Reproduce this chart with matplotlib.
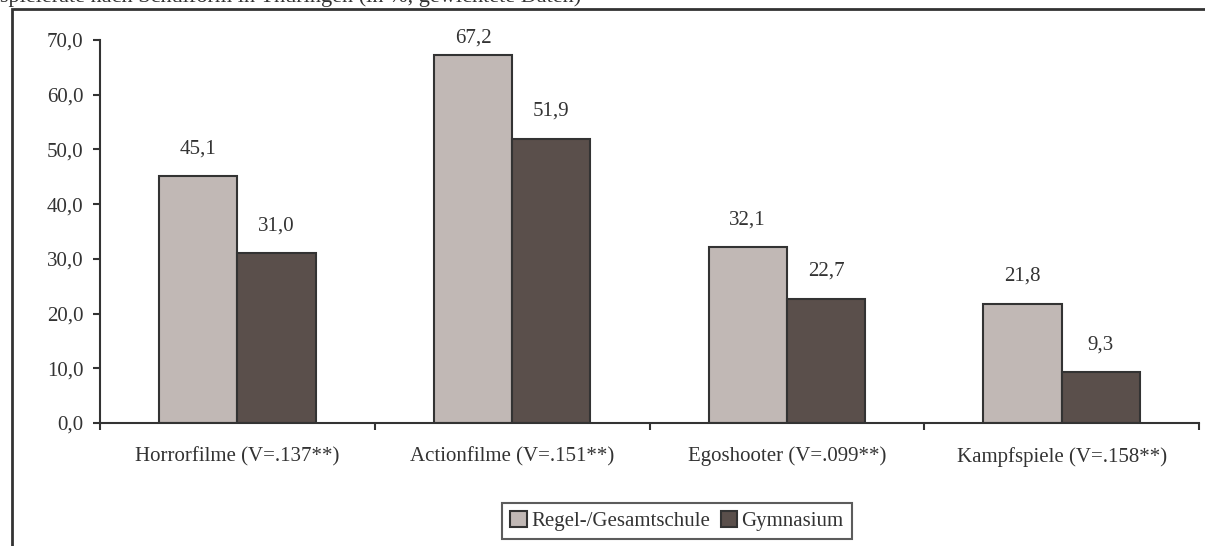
import matplotlib.pyplot as plt
import numpy as np
from matplotlib.patches import Rectangle

categories = ["Horrorfilme (V=.137**)", "Actionfilme (V=.151**)",
              "Egoshooter (V=.099**)", "Kampfspiele (V=.158**)"]
regel = [45.1, 67.2, 32.1, 21.8]
gymnasium = [31.0, 51.9, 22.7, 9.3]
series_names = ["Regel-/Gesamtschule", "Gymnasium"]
title = "spielerate nach Schulform in Thüringen (in %, gewichtete Daten)"

plt.rcParams['font.family'] = ['Liberation Serif', 'DejaVu Serif']
plt.rcParams['font.size'] = 15

edge = '#333333'
light = '#c1b8b5'
dark = '#5a4f4b'

fig = plt.figure(figsize=(12.05, 5.46), dpi=100)
ax = fig.add_axes([100 / 1205, 1 - 423 / 546, 1099 / 1205, 383 / 546])

x = np.arange(len(categories)) + 0.5
w = 0.285
b1 = ax.bar(x - w / 2, regel, w, color=light, edgecolor=edge, linewidth=1.5, label=series_names[0])
b2 = ax.bar(x + w / 2, gymnasium, w, color=dark, edgecolor=edge, linewidth=1.5, label=series_names[1])

fmt = lambda v: f"{v:.1f}".replace('.', ',')
# px per unit on y, labels near the top get pushed down (like Excel does)
px_per_unit = 383 / 70
for bars, vals in [(b1, regel), (b2, gymnasium)]:
    for r, v in zip(bars, vals):
        off = min(13, (68.7 - v) * px_per_unit * 0.72)
        ax.annotate(fmt(v), (r.get_x() + r.get_width() / 2, v), xytext=(0, off),
                    textcoords='offset points', ha='center', va='bottom', color='#333333')

ax.set_xlim(0, 4)
ax.set_ylim(0, 70)
ax.set_yticks(np.arange(0, 71, 10))
ax.set_yticklabels([fmt(v) for v in np.arange(0, 71, 10)])
ax.set_xticks(np.arange(0, 5))
ax.set_xticklabels([])
ax.set_xticks(x, minor=True)
ax.set_xticklabels(categories, minor=True)
ax.tick_params(axis='x', which='minor', length=0, pad=17)
ax.tick_params(axis='x', which='major', length=5, width=1.5, color=edge)
ax.tick_params(axis='y', length=5, width=1.5, color=edge, pad=7)
for lab in ax.get_xticklabels(minor=True) + ax.get_yticklabels():
    lab.set_color('#333333')
for s in ['top', 'right']:
    ax.spines[s].set_visible(False)
for s in ['left', 'bottom']:
    ax.spines[s].set_color(edge)
    ax.spines[s].set_linewidth(1.5)

leg = fig.legend(loc='center', bbox_to_anchor=(677 / 1205, 1 - 521 / 546), ncol=2,
                 frameon=True, fancybox=False, handlelength=0.8, handleheight=0.8,
                 handletextpad=0.2, columnspacing=0.5, borderpad=0.4)
leg.get_frame().set_edgecolor(edge)
leg.get_frame().set_linewidth(1.5)
for t in leg.get_texts():
    t.set_color('#333333')

# outer frame, clipped by the image on right and bottom
fig.add_artist(Rectangle((12 / 1205, -0.2), 1.5, 1.2 - 9 / 546, transform=fig.transFigure,
                         fill=False, edgecolor=edge, linewidth=2))
fig.text(0, 1 - 2 / 546, title, ha='left', va='baseline', fontsize=16, color='#333333')

fig.savefig('out.png', dpi=100)
